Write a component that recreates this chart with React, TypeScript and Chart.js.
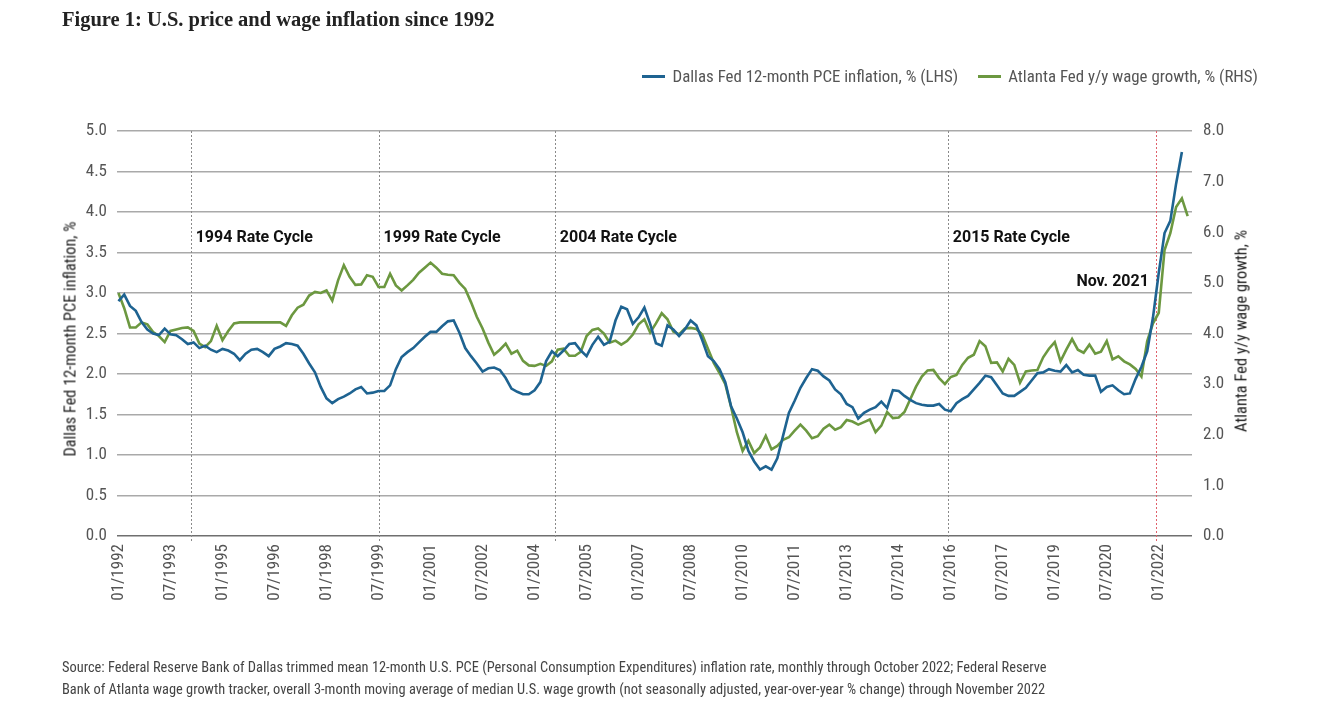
import React, { useEffect, useRef } from "react";
import { Chart, registerables } from "chart.js";

Chart.register(...registerables);

// ---------------- DATA ----------------
const START_YEAR = 1992;
const STEP_MONTHS = 2; // one reading every two months, starting 01/1992

const xTickLabels = [
  "01/1992", "07/1993", "01/1995", "07/1996", "01/1998", "07/1999", "01/2001",
  "07/2002", "01/2004", "07/2005", "01/2007", "07/2008", "01/2010", "07/2011",
  "01/2013", "07/2014", "01/2016", "07/2017", "01/2019", "07/2020", "01/2022",
];

// Dallas Fed trimmed mean 12-month PCE inflation, % (LHS), 01/1992 .. 09/2022 every 2 months
const pceInflation = [
  2.90, 2.98, 2.84, 2.78, 2.64, 2.55, 2.50, 2.48, 2.56, 2.49,
  2.48, 2.43, 2.37, 2.39, 2.32, 2.35, 2.30, 2.27, 2.31, 2.29,
  2.25, 2.17, 2.25, 2.30, 2.31, 2.27, 2.22, 2.31, 2.34, 2.38,
  2.37, 2.35, 2.25, 2.13, 2.02, 1.84, 1.70, 1.64, 1.69, 1.72,
  1.76, 1.81, 1.84, 1.76, 1.77, 1.79, 1.79, 1.86, 2.06, 2.21,
  2.27, 2.32, 2.39, 2.46, 2.52, 2.52, 2.59, 2.65, 2.66, 2.51,
  2.32, 2.22, 2.13, 2.03, 2.07, 2.08, 2.05, 1.95, 1.82, 1.78,
  1.75, 1.75, 1.80, 1.90, 2.16, 2.28, 2.22, 2.29, 2.37, 2.38,
  2.29, 2.22, 2.36, 2.46, 2.36, 2.40, 2.66, 2.83, 2.80, 2.62,
  2.70, 2.82, 2.62, 2.38, 2.35, 2.60, 2.55, 2.47, 2.55, 2.66,
  2.60, 2.42, 2.22, 2.16, 2.06, 1.90, 1.60, 1.45, 1.28, 1.05,
  0.92, 0.82, 0.86, 0.82, 0.96, 1.24, 1.52, 1.67, 1.83, 1.95,
  2.06, 2.04, 1.97, 1.92, 1.81, 1.75, 1.63, 1.59, 1.45, 1.52,
  1.56, 1.59, 1.66, 1.58, 1.80, 1.79, 1.73, 1.68, 1.64, 1.62,
  1.61, 1.61, 1.63, 1.56, 1.54, 1.64, 1.69, 1.73, 1.81, 1.89,
  1.98, 1.96, 1.86, 1.76, 1.73, 1.73, 1.78, 1.83, 1.92, 2.01,
  2.02, 2.06, 2.04, 2.03, 2.11, 2.02, 2.05, 1.99, 1.98, 1.98,
  1.78, 1.84, 1.86, 1.80, 1.75, 1.76, 1.94, 2.09, 2.28, 2.70,
  3.25, 3.74, 3.89, 4.35, 4.74,
];

// Atlanta Fed y/y wage growth, % (RHS), 01/1992 .. 11/2022 every 2 months
const wageGrowth = [
  4.80, 4.50, 4.12, 4.12, 4.22, 4.18, 4.03, 3.95, 3.83, 4.05,
  4.08, 4.11, 4.12, 4.05, 3.80, 3.73, 3.85, 4.15, 3.87, 4.05,
  4.20, 4.22, 4.22, 4.22, 4.22, 4.22, 4.22, 4.22, 4.22, 4.15,
  4.36, 4.51, 4.57, 4.75, 4.82, 4.80, 4.85, 4.65, 5.05, 5.35,
  5.12, 4.96, 4.97, 5.15, 5.12, 4.92, 4.92, 5.18, 4.95, 4.85,
  4.95, 5.06, 5.20, 5.30, 5.40, 5.30, 5.18, 5.16, 5.15, 5.00,
  4.88, 4.62, 4.33, 4.10, 3.82, 3.58, 3.68, 3.80, 3.60, 3.66,
  3.46, 3.37, 3.36, 3.40, 3.36, 3.45, 3.68, 3.70, 3.56, 3.56,
  3.64, 3.95, 4.07, 4.10, 4.00, 3.82, 3.86, 3.78, 3.85, 3.98,
  4.18, 4.28, 4.02, 4.20, 4.40, 4.28, 4.04, 3.98, 4.10, 4.11,
  4.09, 3.98, 3.70, 3.42, 3.22, 3.00, 2.55, 2.05, 1.68, 1.88,
  1.64, 1.75, 1.98, 1.71, 1.78, 1.90, 1.95, 2.08, 2.20, 2.08,
  1.93, 1.97, 2.12, 2.20, 2.10, 2.15, 2.29, 2.26, 2.20, 2.25,
  2.30, 2.05, 2.18, 2.45, 2.33, 2.34, 2.45, 2.70, 2.95, 3.15,
  3.27, 3.28, 3.12, 3.00, 3.14, 3.18, 3.38, 3.52, 3.58, 3.85,
  3.75, 3.42, 3.43, 3.25, 3.50, 3.38, 3.03, 3.25, 3.27, 3.28,
  3.53, 3.70, 3.83, 3.45, 3.68, 3.89, 3.68, 3.62, 3.78, 3.60,
  3.64, 3.85, 3.49, 3.55, 3.45, 3.39, 3.30, 3.15, 3.85, 4.20,
  4.41, 5.65, 5.98, 6.50, 6.67, 6.32,
];

const rateCycleMonths = ["02/1994", "07/1999", "08/2004", "12/2015"];
const rateCycleLabels = ["1994 Rate Cycle", "1999 Rate Cycle", "2004 Rate Cycle", "2015 Rate Cycle"];
const markerMonth = "12/2021";
const markerLabel = "Nov. 2021";

const seriesLabels = [
  "Dallas Fed 12-month PCE inflation, % (LHS)",
  "Atlanta Fed y/y wage growth, % (RHS)",
];

// ---------------- STYLE ----------------
const BLUE = "#1e6391";
const GREEN = "#6c9840";
const NARROW = "'Liberation Sans Narrow', 'Arial Narrow', 'Roboto Condensed', Roboto, sans-serif";
const BOLD_FONT = "Roboto, 'Liberation Sans', sans-serif";

const monthIndex = (s: string) => {
  const [mm, yyyy] = s.split("/").map(Number);
  return (yyyy - START_YEAR) * 12 + (mm - 1);
};

const annotationPlugin = {
  id: "rateCycles",
  beforeDatasetsDraw(chart: any) {
    const { ctx, chartArea, scales } = chart;
    const x = scales.x;
    ctx.save();
    ctx.lineWidth = 1;
    ctx.setLineDash([2, 2]);
    rateCycleMonths.forEach((m) => {
      const px = Math.round(x.getPixelForValue(monthIndex(m))) + 0.5;
      ctx.strokeStyle = "#8a8a8a";
      ctx.beginPath();
      ctx.moveTo(px, chartArea.top);
      ctx.lineTo(px, chartArea.bottom + 5);
      ctx.stroke();
    });
    const rx = Math.round(x.getPixelForValue(monthIndex(markerMonth))) + 0.5;
    ctx.strokeStyle = "#e0606a";
    ctx.beginPath();
    ctx.moveTo(rx, chartArea.top);
    ctx.lineTo(rx, chartArea.bottom + 5);
    ctx.stroke();
    ctx.restore();
  },
  afterDatasetsDraw(chart: any) {
    const { ctx, scales } = chart;
    const x = scales.x;
    const y = scales.y;
    ctx.save();
    ctx.fillStyle = "#111";
    ctx.font = `bold 16px ${BOLD_FONT}`;
    ctx.textBaseline = "middle";
    ctx.textAlign = "left";
    rateCycleMonths.forEach((m, i) => {
      const px = x.getPixelForValue(monthIndex(m));
      ctx.fillText(rateCycleLabels[i], px + 5, y.getPixelForValue(3.68));
    });
    ctx.textAlign = "right";
    ctx.fillText(markerLabel, x.getPixelForValue(monthIndex(markerMonth)) - 7, y.getPixelForValue(3.14));
    ctx.restore();
  },
};

export default function App() {
  const ref = useRef<HTMLCanvasElement>(null);

  useEffect(() => {
    if (!ref.current) return;
    const tickValues = xTickLabels.map(monthIndex);
    const labelFor = new Map(xTickLabels.map((l) => [monthIndex(l), l]));
    const chart = new Chart(ref.current, {
      type: "line",
      data: {
        datasets: [
          {
            label: seriesLabels[0],
            data: pceInflation.map((v, i) => ({ x: i * STEP_MONTHS, y: v })),
            borderColor: BLUE,
            backgroundColor: BLUE,
            borderWidth: 2.6,
            pointRadius: 0,
            tension: 0,
            yAxisID: "y",
          },
          {
            label: seriesLabels[1],
            data: wageGrowth.map((v, i) => ({ x: i * STEP_MONTHS, y: v })),
            borderColor: GREEN,
            backgroundColor: GREEN,
            borderWidth: 2.6,
            pointRadius: 0,
            tension: 0,
            yAxisID: "y1",
          },
        ],
      },
      options: {
        responsive: false,
        animation: false,
        events: [],
        layout: { padding: { top: 131, left: 0, right: 0, bottom: 0 } },
        plugins: { legend: { display: false }, tooltip: { enabled: false } },
        scales: {
          x: {
            type: "linear",
            min: -0.5,
            max: 371.5,
            afterBuildTicks: (scale: any) => {
              scale.ticks = tickValues.map((v) => ({ value: v }));
            },
            afterFit: (scale: any) => {
              scale.height = 190;
            },
            grid: { display: false, drawTicks: false },
            border: { display: false },
            ticks: {
              autoSkip: false,
              maxRotation: 90,
              minRotation: 90,
              padding: 8,
              color: "#555",
              font: { family: NARROW, size: 17 },
              callback: (v: any) => labelFor.get(Number(v)) ?? "",
            },
          },
          y: {
            position: "left",
            min: 0,
            max: 5,
            afterFit: (scale: any) => {
              scale.width = 117;
            },
            grid: {
              drawTicks: false,
              lineWidth: 1.6,
              color: (c: any) => (c.tick && c.tick.value === 0 ? "#6f6f6f" : "#a9a9a9"),
            },
            border: { display: false },
            ticks: {
              stepSize: 0.5,
              padding: 10,
              color: "#555",
              font: { family: NARROW, size: 17 },
              callback: (v: any) => Number(v).toFixed(1),
            },
          },
          y1: {
            position: "right",
            min: 0,
            max: 8,
            afterFit: (scale: any) => {
              scale.width = 152;
            },
            grid: { drawOnChartArea: false, drawTicks: false },
            border: { display: false },
            ticks: {
              stepSize: 1,
              padding: 11,
              color: "#555",
              font: { family: NARROW, size: 17 },
              callback: (v: any) => Number(v).toFixed(1),
            },
          },
        },
      },
      plugins: [annotationPlugin],
    } as any);
    return () => chart.destroy();
  }, []);

  const legendSwatch = (color: string) => (
    <span style={{ display: "inline-block", width: 23, height: 3, background: color, marginRight: 7 }} />
  );

  return (
    <div style={{ position: "absolute", left: 0, top: 0, width: 1344, height: 726, background: "#fff", overflow: "hidden" }}>
      <canvas ref={ref} width={1344} height={726} style={{ position: "absolute", left: 0, top: 0, width: 1344, height: 726 }} />
      <div style={{ position: "absolute", left: 62, top: 8, font: "bold 20.5px 'Liberation Serif', serif", color: "#222", whiteSpace: "nowrap" }}>
        Figure 1: U.S. price and wage inflation since 1992
      </div>
      <div style={{ position: "absolute", right: 86, top: 66, display: "flex", alignItems: "center", font: `16.9px ${NARROW}`, color: "#555", whiteSpace: "nowrap" }}>
        {legendSwatch(BLUE)}
        <span>{seriesLabels[0]}</span>
        <span style={{ width: 20 }} />
        {legendSwatch(GREEN)}
        <span>{seriesLabels[1]}</span>
      </div>
      <div style={{ position: "absolute", left: 70, top: 339, transform: "translate(-50%, -50%) rotate(-90deg)", font: `16.3px ${NARROW}`, color: "#222", whiteSpace: "nowrap" }}>
        Dallas Fed 12-month PCE inflation, %
      </div>
      <div style={{ position: "absolute", left: 1241, top: 331, transform: "translate(-50%, -50%) rotate(-90deg)", font: `16.5px ${NARROW}`, color: "#222", whiteSpace: "nowrap" }}>
        Atlanta Fed y/y wage growth, %
      </div>
      <div style={{ position: "absolute", left: 62, top: 657, font: `14.4px ${NARROW}`, lineHeight: "22px", color: "#444", whiteSpace: "nowrap" }}>
        <div>Source: Federal Reserve Bank of Dallas trimmed mean 12-month U.S. PCE (Personal Consumption Expenditures) inflation rate, monthly through October 2022; Federal Reserve</div>
        <div>Bank of Atlanta wage growth tracker, overall 3-month moving average of median U.S. wage growth (not seasonally adjusted, year-over-year % change) through November 2022</div>
      </div>
    </div>
  );
}
